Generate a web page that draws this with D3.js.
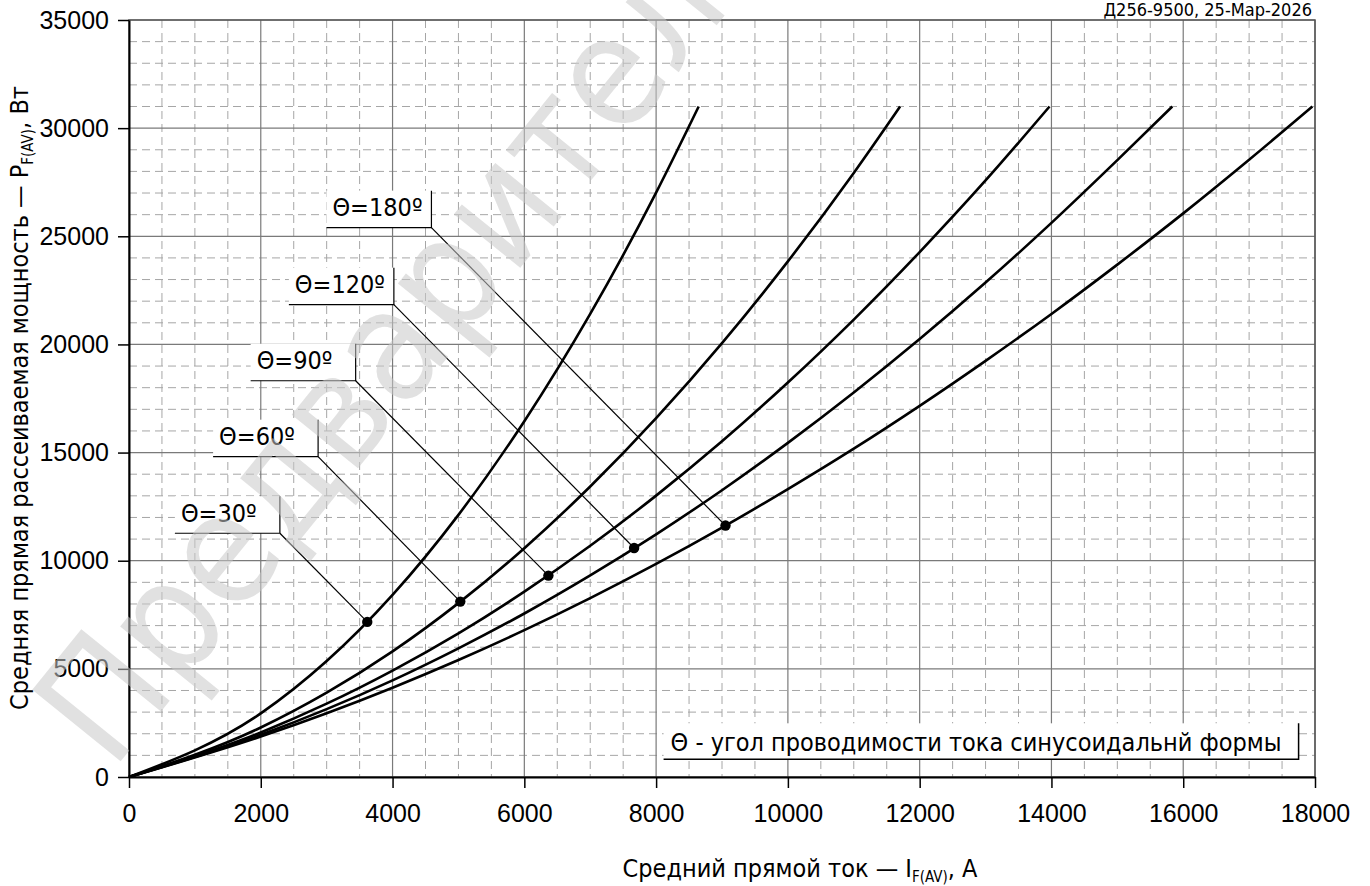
<!DOCTYPE html>
<html>
<head>
<meta charset="utf-8">
<script src="https://cdn.jsdelivr.net/npm/d3@7"></script>
<style>
    body { margin: 0; background: #fff; }
    svg { display: block; font-family: "DejaVu Sans Condensed", "DejaVu Sans", sans-serif; }
</style>
</head>
<body>
<svg id="chart" width="1370" height="886"></svg>
<script>
// values
const xTickValues = [0, 2000, 4000, 6000, 8000, 10000, 12000, 14000, 16000, 18000];
const yTickValues = [0, 5000, 10000, 15000, 20000, 25000, 30000, 35000];

const angles = ["30", "60", "90", "120", "180"];
const curve30 = [[0, 0], [2000, 2940], [3000, 5360], [4000, 8420], [5000, 12120], [6000, 16450], [7000, 21410], [8000, 27020], [8646, 31000]];
const curve60 = [[0, 0], [2000, 2290], [3000, 3900], [4000, 5810], [5000, 8040], [6000, 10580], [7000, 13430], [8000, 16590], [9000, 20060], [10000, 23840], [11000, 27930], [11703, 31000]];
const curve90 = [[0, 0], [2000, 2060], [3000, 3390], [4000, 4920], [5000, 6640], [6000, 8570], [7000, 10690], [8000, 13010], [9000, 15520], [10000, 18240], [11000, 21150], [12000, 24270], [13000, 27580], [13971, 31000]];
const curve120 = [[0, 0], [2000, 1950], [3000, 3140], [4000, 4470], [5000, 5950], [6000, 7560], [7000, 9320], [8000, 11220], [9000, 13260], [10000, 15450], [11000, 17780], [12000, 20250], [13000, 22860], [14000, 25620], [15000, 28520], [15834, 31000]];
const curve180 = [[0, 0], [2000, 1870], [3000, 2950], [4000, 4130], [5000, 5410], [6000, 6790], [7000, 8270], [8000, 9850], [9000, 11530], [10000, 13310], [11000, 15180], [12000, 17160], [13000, 19240], [14000, 21410], [15000, 23690], [16000, 26060], [17000, 28540], [17960, 31000]];

// marked points and label corners (data units)
const dotCurrent = [3616, 5028, 6365, 7666, 9053];
const dotPower = [7170, 8110, 9312, 10590, 11625];
const labelCurrent = [2290, 2870, 3440, 4020, 4590];
const labelPower = [11270, 14810, 18320, 21840, 25400];

const legendText = "Θ - угол проводимости тока синусоидальнй формы";
const stampText = "Д256-9500, 25-Мар-2026";
const watermarkText = "Предварительный";

const curves = [curve30, curve60, curve90, curve120, curve180];

const margin = { top: 20, left: 129 };
const width = 1186;
const height = 757;

const svg = d3.select("#chart");
const g = svg.append("g")
    .attr("transform", "translate(" + margin.left + "," + margin.top + ")");

const x = d3.scaleLinear().domain([0, 18000]).range([0, width]);
const y = d3.scaleLinear().domain([0, 35000]).range([height, 0]);

// minor dashed grid
const xMinor = d3.range(500, 18000, 500).filter(function(d) { return d % 2000 !== 0; });
const yMinor = d3.range(1000, 35000, 1000).filter(function(d) { return d % 5000 !== 0; });

g.append("g").selectAll("line")
    .data(xMinor)
    .join("line")
    .attr("x1", function(d) { return x(d); })
    .attr("x2", function(d) { return x(d); })
    .attr("y1", 0)
    .attr("y2", height)
    .attr("stroke", "#a6a6a6")
    .attr("stroke-dasharray", "8,5");
g.append("g").selectAll("line")
    .data(yMinor)
    .join("line")
    .attr("x1", 0)
    .attr("x2", width)
    .attr("y1", function(d) { return y(d); })
    .attr("y2", function(d) { return y(d); })
    .attr("stroke", "#a6a6a6")
    .attr("stroke-dasharray", "8,5");

// major grid
g.append("g").selectAll("line")
    .data(xTickValues.slice(1))
    .join("line")
    .attr("x1", function(d) { return x(d); })
    .attr("x2", function(d) { return x(d); })
    .attr("y1", 0)
    .attr("y2", height)
    .attr("stroke", "#7a7a7a")
    .attr("stroke-width", 1.2);
g.append("g").selectAll("line")
    .data(yTickValues.slice(1))
    .join("line")
    .attr("x1", 0)
    .attr("x2", width)
    .attr("y1", function(d) { return y(d); })
    .attr("y2", function(d) { return y(d); })
    .attr("stroke", "#7a7a7a")
    .attr("stroke-width", 1.2);

g.append("rect")
    .attr("width", width)
    .attr("height", height)
    .attr("fill", "none")
    .attr("stroke", "#555")
    .attr("stroke-width", 1.5);

// curves
const line = d3.line()
    .curve(d3.curveMonotoneX)
    .x(function(d) { return x(d[0]); })
    .y(function(d) { return y(d[1]); });
g.append("g").selectAll("path")
    .data(curves)
    .join("path")
    .attr("d", line)
    .attr("fill", "none")
    .attr("stroke", "#000")
    .attr("stroke-width", 2.6)
    .attr("stroke-linejoin", "round");

// labels with leader lines
const boxW = 105, boxH = 37;
const labels = g.append("g").selectAll("g")
    .data(angles)
    .join("g");
labels.append("line")
    .attr("x1", function(d, i) { return x(labelCurrent[i]); })
    .attr("y1", function(d, i) { return y(labelPower[i]); })
    .attr("x2", function(d, i) { return x(dotCurrent[i]); })
    .attr("y2", function(d, i) { return y(dotPower[i]); })
    .attr("stroke", "#000")
    .attr("stroke-width", 1.2);
labels.append("rect")
    .attr("x", function(d, i) { return x(labelCurrent[i]) - boxW; })
    .attr("y", function(d, i) { return y(labelPower[i]) - boxH; })
    .attr("width", boxW)
    .attr("height", boxH)
    .attr("fill", "#fff");
labels.append("path")
    .attr("d", function(d, i) {
        const cx = x(labelCurrent[i]), cy = y(labelPower[i]);
        return "M" + (cx - boxW) + "," + cy + "H" + cx + "V" + (cy - boxH);
    })
    .attr("fill", "none")
    .attr("stroke", "#000")
    .attr("stroke-width", 1.2);
labels.append("text")
    .attr("x", function(d, i) { return x(labelCurrent[i]) - boxW + 6; })
    .attr("y", function(d, i) { return y(labelPower[i]) - 11.5; })
    .attr("font-size", 25)
    .text(function(d) { return "Θ=" + d + "º"; });

g.append("g").selectAll("circle")
    .data(dotCurrent)
    .join("circle")
    .attr("cx", function(d) { return x(d); })
    .attr("cy", function(d, i) { return y(dotPower[i]); })
    .attr("r", 5.2)
    .attr("fill", "#000");

// legend note
const legend = g.append("g")
    .attr("transform", "translate(" + x(17751) + "," + y(818) + ")");
legend.append("rect")
    .attr("x", -635)
    .attr("y", -36)
    .attr("width", 635)
    .attr("height", 36)
    .attr("fill", "#fff");
legend.append("path")
    .attr("d", "M-635,0H0V-36")
    .attr("fill", "none")
    .attr("stroke", "#000")
    .attr("stroke-width", 1.5);
legend.append("text")
    .attr("x", -628)
    .attr("y", -8)
    .attr("font-size", 25)
    .text(legendText);

// axes
const xAxis = g.append("g")
    .attr("transform", "translate(0," + height + ")")
    .call(d3.axisBottom(x)
        .tickValues(xTickValues)
        .tickSize(11)
        .tickSizeOuter(0)
        .tickPadding(16)
        .tickFormat(d3.format("d")));
const yAxis = g.append("g")
    .call(d3.axisLeft(y)
        .tickValues(yTickValues)
        .tickSize(11)
        .tickSizeOuter(0)
        .tickPadding(9)
        .tickFormat(d3.format("d")));
[xAxis, yAxis].forEach(function(a) {
    a.selectAll("text").attr("font-size", 25).attr("fill", "#000").attr("font-family", null);
    a.selectAll("line").attr("stroke", "#000").attr("stroke-width", 1.5);
    a.select(".domain").attr("stroke", "#000").attr("stroke-width", 2);
});

// axis titles
const xTitle = svg.append("text")
    .attr("x", 800)
    .attr("y", 877)
    .attr("text-anchor", "middle")
    .attr("font-size", 25);
xTitle.append("tspan").text("Средний прямой ток — I");
xTitle.append("tspan").attr("font-size", 15).attr("dy", 5).text("F(AV)");
xTitle.append("tspan").attr("dy", -5).text(", A");

const yTitle = svg.append("text")
    .attr("transform", "translate(28,398) rotate(-90)")
    .attr("text-anchor", "middle")
    .attr("font-size", 25);
yTitle.append("tspan").text("Средняя прямая рассеиваемая мощность — P");
yTitle.append("tspan").attr("font-size", 15).attr("dy", 5).text("F(AV)");
yTitle.append("tspan").attr("dy", -5).text(", Вт");

svg.append("text")
    .attr("x", 1312)
    .attr("y", 16)
    .attr("text-anchor", "end")
    .attr("font-size", 18)
    .text(stampText);

// watermark
svg.append("text")
    .attr("transform", "translate(112,772) rotate(-51)")
    .attr("font-size", 156)
    .attr("fill", "#c8c8c8")
    .attr("fill-opacity", 0.55)
    .text(watermarkText);
</script>
</body>
</html>
